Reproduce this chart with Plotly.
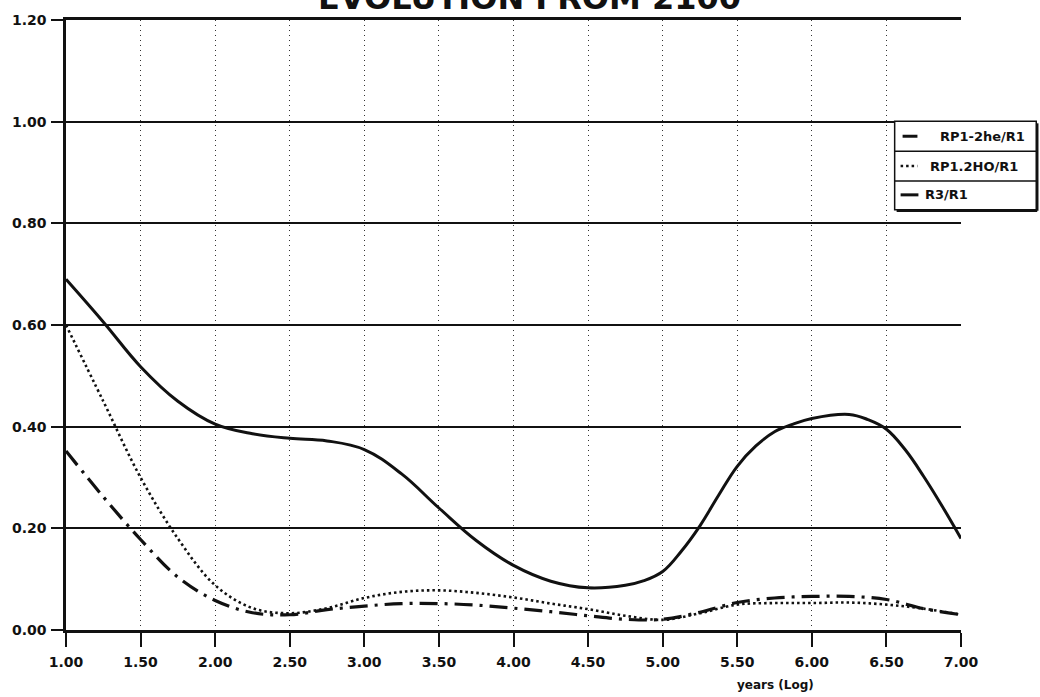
import plotly.graph_objects as go

# ---- data -------------------------------------------------------------
years_log = [1.00, 1.25, 1.50, 1.75, 2.00, 2.25, 2.50, 2.75, 3.00, 3.25,
             3.50, 3.75, 4.00, 4.25, 4.50, 4.75, 5.00, 5.25, 5.50, 5.75,
             6.00, 6.25, 6.50, 6.75, 7.00]

rp1_2he_r1 = [0.352, 0.262, 0.178, 0.104, 0.058, 0.034, 0.030, 0.040, 0.047, 0.052,
              0.052, 0.049, 0.043, 0.036, 0.028, 0.021, 0.021, 0.035, 0.054, 0.063,
              0.066, 0.066, 0.060, 0.042, 0.030]

rp1_2ho_r1 = [0.600, 0.450, 0.300, 0.180, 0.088, 0.043, 0.033, 0.043, 0.063, 0.075,
              0.078, 0.073, 0.064, 0.052, 0.041, 0.028, 0.020, 0.033, 0.050, 0.053,
              0.053, 0.054, 0.050, 0.042, 0.030]

# R3/R1 is sampled more finely where it bends sharply
years_log_r3 = [1.00, 1.25, 1.50, 1.75, 2.00, 2.25, 2.50, 2.75, 3.00, 3.25,
                3.50, 3.75, 4.00, 4.25, 4.50, 4.75, 4.875, 5.00, 5.125, 5.25,
                5.375, 5.50, 5.625, 5.75, 5.875, 6.00, 6.25, 6.375, 6.50, 6.625,
                6.75, 6.875, 7.00]
r3_r1 = [0.690, 0.606, 0.518, 0.450, 0.405, 0.386, 0.377, 0.372, 0.355, 0.307,
         0.240, 0.176, 0.127, 0.096, 0.083, 0.088, 0.097, 0.115, 0.155, 0.205,
         0.265, 0.322, 0.362, 0.390, 0.405, 0.416, 0.424, 0.414, 0.395, 0.355,
         0.302, 0.243, 0.180]

series_names = ["RP1-2he/R1", "RP1.2HO/R1", "R3/R1"]
x_tick_values = [1.0, 1.5, 2.0, 2.5, 3.0, 3.5, 4.0, 4.5, 5.0, 5.5, 6.0, 6.5, 7.0]
y_tick_values = [0.0, 0.2, 0.4, 0.6, 0.8, 1.0, 1.2]
chart_title = "EVOLUTION FROM 2100"
x_axis_label = "years (Log)"

# ---- layout geometry (pixels) -----------------------------------------
W, H = 1040, 697
L, R, T, B = 57, 79, 16, 67
PW, PH = W - L - R, H - T - B


def px_x(px):
    return (px - L) / PW


def px_y(py):
    return (H - B - py) / PH


FONT = "DejaVu Sans"
INK = "#111111"

fig = go.Figure()

fig.add_trace(go.Scatter(
    x=years_log, y=rp1_2he_r1, name=series_names[0], mode="lines",
    line=dict(color=INK, width=3.2, dash="18px,7px,3px,7px", shape="spline", smoothing=1.0),
    showlegend=False,
))
fig.add_trace(go.Scatter(
    x=years_log, y=rp1_2ho_r1, name=series_names[1], mode="lines",
    line=dict(color=INK, width=2.6, dash="2.5px,3px", shape="spline", smoothing=1.0),
    showlegend=False,
))
fig.add_trace(go.Scatter(
    x=years_log_r3, y=r3_r1, name=series_names[2], mode="lines",
    line=dict(color=INK, width=3.0, shape="spline", smoothing=1.1),
    showlegend=False,
))

fig.update_layout(
    width=W, height=H,
    margin=dict(l=L, r=R, t=T, b=B),
    paper_bgcolor="white", plot_bgcolor="white",
    font=dict(family=FONT, color=INK),
    showlegend=False,
)

fig.update_xaxes(
    range=[1.0, 7.0],
    tickvals=x_tick_values, tickformat=".2f",
    ticks="outside", ticklen=14, tickwidth=2, tickcolor=INK,
    ticklabelstandoff=3,
    tickfont=dict(family=FONT, size=14, color=INK, weight="bold"),
    showline=True, linewidth=2.5, linecolor=INK, mirror=True,
    showgrid=True, gridcolor="#333333", gridwidth=1, griddash="1px,4px",
    zeroline=False,
)
fig.update_yaxes(
    range=[0.0, 1.2],
    tickvals=y_tick_values, tickformat=".2f",
    ticks="outside", ticklen=12, tickwidth=2, tickcolor=INK,
    ticklabelstandoff=2,
    tickfont=dict(family=FONT, size=14, color=INK, weight="bold"),
    showline=True, linewidth=2.5, linecolor=INK,
    showgrid=True, gridcolor=INK, gridwidth=2,
    zeroline=False,
)

# ---- legend box drawn as a framed table of entries ---------------------
lx0, lx1, ly0, ly1 = 894, 1037, 118, 207
row_edges = [118, 148, 178, 207]
shapes = []
shapes.append(dict(type="rect", xref="paper", yref="paper",
                   x0=px_x(lx0), x1=px_x(lx1), y0=px_y(ly1), y1=px_y(ly0),
                   line=dict(color=INK, width=1.5), fillcolor="white", layer="above"))
# heavier right / bottom edge
shapes.append(dict(type="line", xref="paper", yref="paper",
                   x0=px_x(lx1 + 1), x1=px_x(lx1 + 1), y0=px_y(ly1 + 1), y1=px_y(ly0 + 2),
                   line=dict(color=INK, width=2.5), layer="above"))
shapes.append(dict(type="line", xref="paper", yref="paper",
                   x0=px_x(lx0 + 2), x1=px_x(lx1 + 1), y0=px_y(ly1 + 1), y1=px_y(ly1 + 1),
                   line=dict(color=INK, width=2.5), layer="above"))
for yy in row_edges[1:-1]:
    shapes.append(dict(type="line", xref="paper", yref="paper",
                       x0=px_x(lx0), x1=px_x(lx1), y0=px_y(yy), y1=px_y(yy),
                       line=dict(color=INK, width=1.5), layer="above"))

row_centres = [133, 163, 192]
sample_dash = ["solid", "2.5px,3px", "solid"]
sample_span = [(902, 917), (900, 917), (900, 918)]
text_left = [938, 928, 923]
annotations = []
for name, yc, dash, (sx0, sx1), tx in zip(series_names, row_centres, sample_dash,
                                          sample_span, text_left):
    shapes.append(dict(type="line", xref="paper", yref="paper",
                       x0=px_x(sx0), x1=px_x(sx1), y0=px_y(yc), y1=px_y(yc),
                       line=dict(color=INK, width=2.5 if dash != "solid" else 3, dash=dash),
                       layer="above"))
    annotations.append(dict(xref="paper", yref="paper", x=px_x(tx), y=px_y(yc),
                            xanchor="left", yanchor="middle", showarrow=False,
                            text=name, font=dict(family=FONT, size=13, color=INK, weight="bold")))

# axis caption under the x tick labels
annotations.append(dict(xref="paper", yref="paper", x=px_x(774), y=px_y(685),
                        xanchor="center", yanchor="middle", showarrow=False,
                        text=x_axis_label,
                        font=dict(family=FONT, size=12, color=INK, weight="bold")))

# chart title sitting at the very top edge of the page
annotations.append(dict(xref="paper", yref="paper", x=px_x(525), y=px_y(15),
                        xanchor="center", yanchor="bottom", showarrow=False,
                        text=chart_title,
                        font=dict(family=FONT, size=32, color=INK, weight="bold")))

fig.update_layout(shapes=shapes, annotations=annotations)

fig.write_html("out.html")
